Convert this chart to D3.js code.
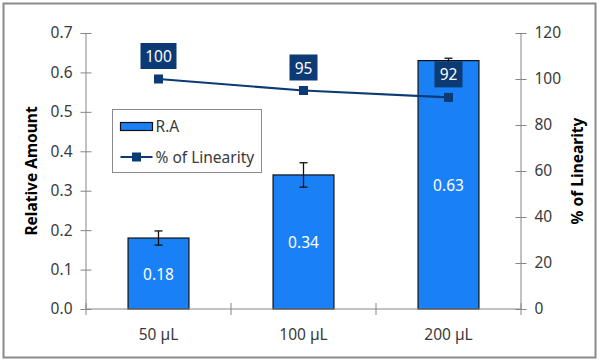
<!DOCTYPE html>
<html>
<head>
<meta charset="utf-8">
<script src="https://cdn.jsdelivr.net/npm/d3@7"></script>
<style>
  body { margin: 0; background: #fff; }
  text { font-family: "Noto Sans", "Open Sans", sans-serif; }
</style>
</head>
<body>
<div id="chart"></div>
<script>
// data
var categories = ["50 µL", "100 µL", "200 µL"];
var amounts = [0.18, 0.34, 0.63];
var errors = [0.018, 0.031, 0.006];
var linearity = [100, 95, 92];
var leftTicks = [0, 0.1, 0.2, 0.3, 0.4, 0.5, 0.6, 0.7];
var rightTicks = [0, 20, 40, 60, 80, 100, 120];

var width = 600, height = 362;
var margin = {top: 33, right: 79, bottom: 53, left: 86};
var barColor = "#1a80f5", navy = "#0b3a74", axisColor = "#868686", textColor = "#3a3a3a";
var fs = "15.5px";

var svg = d3.select("#chart").append("svg")
    .attr("width", width).attr("height", height);

// outer frame
svg.append("rect")
    .attr("x", 3.5).attr("y", 3.5)
    .attr("width", 592).attr("height", 354)
    .attr("fill", "#fff").attr("stroke", "#8a8a8a").attr("stroke-width", 2);

var x = d3.scaleBand().domain(categories)
    .range([margin.left, width - margin.right]).paddingInner(0).paddingOuter(0);
var y = d3.scaleLinear().domain([0, 0.7]).range([height - margin.bottom, margin.top]);
var y2 = d3.scaleLinear().domain([0, 120]).range([height - margin.bottom, margin.top]);
var bw = x.bandwidth() * 0.42;
var cx = function(d) { return x(d) + x.bandwidth() / 2; };

// left axis
var gl = svg.append("g").attr("transform", "translate(" + margin.left + ",0)")
    .call(d3.axisLeft(y).tickValues(leftTicks).tickFormat(d3.format(".1f")).tickSize(5.5).tickPadding(8));
gl.selectAll(".tick line").attr("x2", 5.5).attr("x1", -5.5);

// right axis
var gr = svg.append("g").attr("transform", "translate(" + (width - margin.right) + ",0)")
    .call(d3.axisRight(y2).tickValues(rightTicks).tickSize(5.5).tickPadding(8));
gr.selectAll(".tick line").attr("x1", -5.5).attr("x2", 5.5);

[gl, gr].forEach(function(g) {
  g.select(".domain").attr("stroke", axisColor).attr("d",
    "M0," + y.range()[1] + "V" + y.range()[0]);
  g.selectAll(".tick line").attr("stroke", axisColor);
  g.selectAll(".tick text").attr("fill", textColor).style("font-size", fs);
});

// bars
svg.append("g").selectAll("rect").data(amounts).enter().append("rect")
    .attr("x", function(d, i) { return cx(categories[i]) - bw / 2; })
    .attr("y", function(d) { return y(d); })
    .attr("width", bw)
    .attr("height", function(d) { return y(0) - y(d); })
    .attr("fill", barColor).attr("stroke", "#111").attr("stroke-width", 1.2);

// x axis
var xb = svg.append("g").attr("transform", "translate(0," + y(0) + ")");
xb.append("line").attr("x1", margin.left).attr("x2", width - margin.right)
    .attr("stroke", axisColor);
xb.selectAll(".sep").data(d3.range(categories.length + 1)).enter().append("line")
    .attr("x1", function(i) { return margin.left + i * x.bandwidth(); })
    .attr("x2", function(i) { return margin.left + i * x.bandwidth(); })
    .attr("y1", -6).attr("y2", 6).attr("stroke", axisColor);
xb.selectAll(".lab").data(categories).enter().append("text")
    .attr("x", cx).attr("y", 31)
    .attr("text-anchor", "middle").attr("fill", textColor)
    .style("font-size", fs).text(function(d) { return d; });

// error bars
var eb = svg.append("g").attr("stroke", "#111").attr("stroke-width", 1.3);
amounts.forEach(function(v, i) {
  var c = cx(categories[i]);
  eb.append("line").attr("x1", c).attr("x2", c).attr("y1", y(v - errors[i])).attr("y2", y(v + errors[i]));
  eb.append("line").attr("x1", c - 4).attr("x2", c + 4).attr("y1", y(v - errors[i])).attr("y2", y(v - errors[i]));
  eb.append("line").attr("x1", c - 4).attr("x2", c + 4).attr("y1", y(v + errors[i])).attr("y2", y(v + errors[i]));
});

// bar labels
svg.append("g").selectAll("text").data(amounts).enter().append("text")
    .attr("x", function(d, i) { return cx(categories[i]); })
    .attr("y", function(d) { return (y(d) + y(0)) / 2 + 6; })
    .attr("text-anchor", "middle").attr("fill", "#fff")
    .style("font-size", fs).text(function(d) { return d.toFixed(2); });

// linearity line
var line = d3.line()
    .x(function(d, i) { return cx(categories[i]); })
    .y(function(d) { return y2(d); });
svg.append("path").datum(linearity).attr("d", line)
    .attr("fill", "none").attr("stroke", navy).attr("stroke-width", 2.2);
svg.append("g").selectAll("rect").data(linearity).enter().append("rect")
    .attr("x", function(d, i) { return cx(categories[i]) - 4.5; })
    .attr("y", function(d) { return y2(d) - 4.5; })
    .attr("width", 9).attr("height", 9).attr("fill", navy);

// linearity labels in dark boxes
var lg = svg.append("g").selectAll("g").data(linearity).enter().append("g")
    .attr("transform", function(d, i) {
      return "translate(" + cx(categories[i]) + "," + (y2(d) - 23) + ")";
    });
lg.append("rect")
    .attr("x", function(d) { return d >= 100 ? -18 : -14; })
    .attr("width", function(d) { return d >= 100 ? 36 : 28; })
    .attr("y", -13).attr("height", 26).attr("fill", navy);
lg.append("text").attr("text-anchor", "middle").attr("y", 6)
    .attr("fill", "#fff").style("font-size", fs)
    .text(function(d) { return d; });

// axis titles
svg.append("text")
    .attr("transform", "translate(37," + ((y(0) + y(0.7)) / 2) + ") rotate(-90)")
    .attr("text-anchor", "middle").attr("font-weight", "bold")
    .style("font-size", "15.5px").attr("fill", "#000").text("Relative Amount");
svg.append("text")
    .attr("transform", "translate(583," + ((y(0) + y(0.7)) / 2) + ") rotate(-90)")
    .attr("text-anchor", "middle").attr("font-weight", "bold")
    .style("font-size", "15.5px").attr("fill", "#000").text("% of Linearity");

// legend
var leg = svg.append("g").attr("transform", "translate(112.5,109.5)");
leg.append("rect").attr("width", 149).attr("height", 63)
    .attr("fill", "#fff").attr("stroke", "#8a8a8a");
leg.append("rect").attr("x", 8).attr("y", 13).attr("width", 32).attr("height", 8)
    .attr("fill", barColor).attr("stroke", "#111").attr("stroke-width", 1.2);
leg.append("text").attr("x", 43).attr("y", 22.5).attr("fill", textColor)
    .style("font-size", fs).text("R.A");
leg.append("line").attr("x1", 8).attr("x2", 40).attr("y1", 47.5).attr("y2", 47.5)
    .attr("stroke", navy).attr("stroke-width", 2.2);
leg.append("rect").attr("x", 19.5).attr("y", 43).attr("width", 9).attr("height", 9).attr("fill", navy);
leg.append("text").attr("x", 43).attr("y", 53).attr("fill", textColor)
    .style("font-size", fs).text("% of Linearity");
</script>
</body>
</html>
